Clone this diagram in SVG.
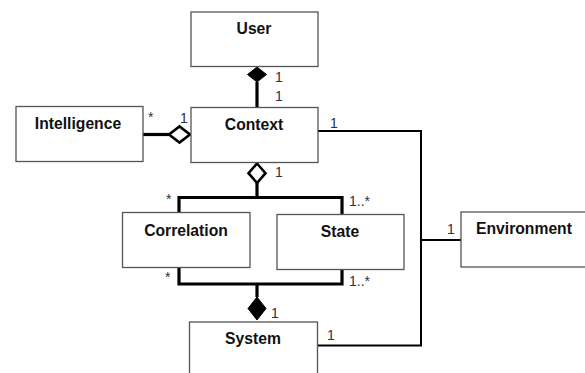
<svg xmlns="http://www.w3.org/2000/svg" width="585" height="373" viewBox="0 0 585 373">
<style>
.box{fill:#fff;stroke:#555;stroke-width:1.3}
.name{font-family:"Liberation Sans",Arial,sans-serif;font-weight:bold;font-size:15.7px;fill:#111;text-anchor:middle}
.m{font-family:"Liberation Sans",Arial,sans-serif;font-size:14px;fill:#2a3340}
.thick{fill:none;stroke:#000;stroke-width:3.2}
.thin{fill:none;stroke:#000;stroke-width:2}
.hol{fill:#fff;stroke:#000;stroke-width:2.6}
.fil{fill:#000;stroke:#000;stroke-width:1}
</style>
<rect width="585" height="373" fill="#fff"/>
<g id="connectors">
  <path class="thick" d="M257,82 V107"/>
  <path class="fil" d="M257,67 L266.5,74.5 L257,82 L247.5,74.5 Z"/>
  <path class="thick" d="M143,134.5 H169"/>
  <path class="hol" d="M190,134.5 L179.5,142.5 L169,134.5 L179.5,126.5 Z"/>
  <path class="thick" d="M257,183 V197.5 M179,212 V197.5 H342 V214"/>
  <path class="hol" d="M257,163.5 L265.5,173.2 L257,183 L248.5,173.2 Z"/>
  <path class="thick" d="M179,268 V284 H342 V270 M257,284 V297"/>
  <path class="fil" d="M257,297 L266,308.5 L257,320 L248,308.5 Z"/>
  <path class="thin" d="M318,131 H421 V345.5 H317 M421,240 H461"/>
</g>
<g id="user"><rect class="box" x="191" y="12" width="127" height="54.5"/><text class="name" x="254" y="34">User</text></g>
<g id="context"><rect class="box" x="191" y="107.5" width="127" height="55"/><text class="name" x="254" y="130">Context</text></g>
<g id="intelligence"><rect class="box" x="16" y="106.5" width="127" height="55"/><text class="name" x="78" y="129">Intelligence</text></g>
<g id="correlation"><rect class="box" x="122.5" y="212.5" width="127.5" height="55"/><text class="name" x="186" y="235.5">Correlation</text></g>
<g id="state"><rect class="box" x="277" y="214.5" width="127" height="55"/><text class="name" x="340" y="237">State</text></g>
<g id="system"><rect class="box" x="189.5" y="322" width="128" height="60"/><text class="name" x="253" y="344">System</text></g>
<g id="environment"><rect class="box" x="461" y="212" width="130" height="55"/><text class="name" x="524" y="234">Environment</text></g>
<g id="labels">
  <text class="m" x="275" y="82">1</text>
  <text class="m" x="275" y="101">1</text>
  <text class="m" x="148" y="122">*</text>
  <text class="m" x="180" y="123">1</text>
  <text class="m" x="275" y="177">1</text>
  <text class="m" x="166" y="204">*</text>
  <text class="m" x="349" y="206">1..*</text>
  <text class="m" x="165" y="282">*</text>
  <text class="m" x="349" y="286">1..*</text>
  <text class="m" x="271" y="318">1</text>
  <text class="m" x="327" y="340">1</text>
  <text class="m" x="330" y="128">1</text>
  <text class="m" x="447" y="234">1</text>
</g>
</svg>
